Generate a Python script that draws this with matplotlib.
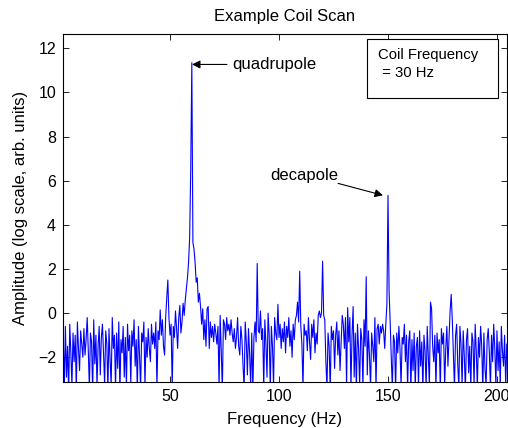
import numpy as np
import matplotlib
matplotlib.use("Agg")
import matplotlib.pyplot as plt
from matplotlib.patches import Rectangle

plt.rcParams['font.family'] = ['Liberation Sans', 'DejaVu Sans']
plt.rcParams['font.size'] = 11

# ---- data ----
freq_start = 1.0   # Hz
freq_step = 0.5    # Hz
amp = [
    # 1 - 10.5 Hz
    -1.1, -3.4, -0.6, -2.9, -1.5, -3.6, -0.5, -1.8, -3.3, -0.9, -2.2, -1.0, -3.5, -0.4, -1.6, -2.6, -0.8, -1.4, -2.0, -0.7,
    # 11 - 20.5
    -1.9, -1.2, -0.2, -1.7, -3.4, -0.9, -1.3, -3.6, -0.3, -2.3, -1.0, -3.3, -1.5, -0.6, -2.8, -1.1, -0.5, -1.9, -3.2, -0.8,
    # 21 - 30.5
    -1.4, -3.5, -0.7, -2.1, -3.3, -0.2, -1.6, -1.0, -3.4, -0.9, -2.5, -0.4, -3.6, -1.2, -1.8, -0.6, -2.9, -1.1, -3.3, -0.5,
    # 31 - 40.5
    -1.7, -1.0, -3.2, -0.8, -1.5, -0.3, -2.4, -1.2, -3.5, -0.6, -1.9, -3.4, -0.9, -1.3, -0.4, -3.3, -1.1, -2.0, -0.7, -1.6,
    # 41 - 50.5
    -2.2, -0.5, -1.4, -0.9, -1.6, -0.4, -3.4, -0.8, -1.2, 0.15, -1.0, -0.3, -1.5, -1.9, -0.2, 0.7, 1.5, -0.2, -1.0, -0.5,
    # 51 - 60.5 (quadrupole at 60 Hz)
    -3.4, -0.6, -1.1, 0.1, -0.7, -1.6, -0.2, 0.35, -0.9, -0.4, 0.45, -0.1, 0.6, 1.1, 1.6, 2.3, 3.4, 6.5, 11.35, 3.2,
    # 61 - 70.5
    2.9, 2.3, 1.4, 1.6, 0.5, 0.9, 0.3, -0.5, 0.2, -1.2, -0.3, -1.5, 0.2, 0.3, -1.6, -0.4, -1.1, -0.6, -1.3, -0.5,
    # 71 - 80.5
    -0.9, -1.4, -0.6, -3.4, -0.1, -1.7, -3.5, -0.3, -0.5, -1.2, -0.2, -0.8, -0.5, -1.0, -0.3, -0.9, -1.3, -0.7, -1.6, -1.1,
    # 81 - 90.5
    -0.2, -1.5, -1.9, -0.6, -1.2, -2.4, -3.4, -0.4, -1.3, -2.8, -0.7, -1.8, -3.3, -0.9, -3.5, -1.1, -0.4, -1.3, 2.25, -0.8,
    # 91 - 100.5
    -0.9, 0.1, -1.2, -0.7, -3.4, -0.3, -1.4, -2.9, 0.0, -1.0, -3.5, -0.6, -1.5, -3.3, -0.2, -0.9, -1.2, 0.4, -1.1, -0.5,
    # 101 - 110.5
    -1.6, -0.7, -1.3, -0.4, -1.8, -0.6, -1.1, -0.2, -1.5, -0.8, -2.0, -0.5, -1.2, -0.3, -0.1, 0.5, -0.4, 1.9, -0.6, -1.4,
    # 111 - 120.5
    -3.4, -0.5, -1.0, -0.8, -1.7, -0.2, -1.3, -2.1, -0.5, -1.1, -0.3, -1.8, -0.9, -1.4, -0.1, 0.1, -0.2, 0.0, 2.35, -0.1,
    # 121 - 130.5
    -0.3, -2.2, -3.4, -0.9, -1.5, -3.5, -0.6, -1.2, -0.8, -2.5, -1.0, -0.4, -1.9, -0.8, -2.6, -1.4, -0.1, -0.5, -1.6, -0.2,
    # 131 - 140.5
    -3.3, 0.25, -1.3, -0.2, -3.4, -1.0, 0.3, -2.9, -0.9, -3.5, -0.5, -1.6, -3.3, -0.7, -1.2, -3.4, -0.3, -1.5, 1.65, -2.8,
    # 141 - 150.5 (decapole at 150 Hz)
    -0.8, -1.9, -3.4, -0.9, -1.5, -2.2, -0.2, -3.4, -0.7, -0.5, -1.4, -0.6, -0.9, -0.5, -0.8, -1.6, -0.5, 0.4, 5.34, 1.0,
    # 151 - 160.5
    -0.4, -2.0, -3.4, -1.0, -1.3, -3.5, -0.9, -1.8, -0.6, -1.6, -3.3, -1.1, -1.4, -0.5, -2.2, -1.0, -3.4, -1.3, -0.8, -3.5,
    # 161 - 170.5
    -1.2, -2.6, -0.9, -3.4, -1.5, -1.1, -3.3, -0.8, -2.4, -1.3, -3.5, -1.0, -1.7, -3.4, -0.6, -1.9, -3.3, 0.5, 0.2, -1.5,
    # 171 - 180.5
    -2.2, -1.0, -3.4, -0.9, -1.8, -1.2, -3.5, -0.7, -1.4, -0.9, -3.3, -1.6, -0.6, -2.4, -1.1, 0.1, 0.85, -0.3, -1.8, -3.4,
    # 181 - 190.5
    -1.0, -0.5, -2.3, -3.4, -0.6, -1.4, -3.3, -0.8, -1.9, -3.5, -1.2, -0.7, -2.7, -1.5, -3.4, -0.9, -1.3, -3.3, -0.5, -1.7,
    # 191 - 200.5
    -3.4, -1.1, -2.0, -0.6, -1.5, -3.5, -0.9, -2.5, -3.3, -1.2, -0.7, -1.8, -3.4, -1.0, -2.2, -0.5, -1.6, -3.3, -0.8, -2.6,
    # 201 - 204.5
    -1.3, -3.4, -0.6, -1.7, -2.4, -1.0, -3.3, -1.4,
]
amp = np.array(amp)
freq = freq_start + freq_step * np.arange(len(amp))

x_ticks = [50, 100, 150, 200]
y_ticks = [-2, 0, 2, 4, 6, 8, 10, 12]

fig = plt.figure(figsize=(5.08, 4.28), dpi=100)
ax = fig.add_axes([63 / 508, 46 / 428, 444 / 508, 348 / 428])

ax.plot(freq, amp, color=(0, 0, 1), lw=0.8)

ax.set_xlim(0.9, 204.6)
ax.set_ylim(-3.12, 12.65)
ax.set_xticks(x_ticks)
ax.set_yticks(y_ticks)
ax.tick_params(direction='in', top=True, right=True, length=4.5, width=0.6,
               labelsize=11.5, pad=5)
for s in ax.spines.values():
    s.set_linewidth(0.8)

ax.set_title('Example Coil Scan', fontsize=12, pad=9)
ax.set_xlabel('Frequency (Hz)', fontsize=12)
ax.xaxis.set_label_coords(0.5, -0.086)
ax.set_ylabel('Amplitude (log scale, arb. units)', fontsize=12)
ax.yaxis.set_label_coords(-0.078, 0.5)

# annotations
ax.annotate('', xy=(60.1, 11.27), xytext=(76.1, 11.27),
            arrowprops=dict(arrowstyle='-|>', color='k', lw=0.8,
                            mutation_scale=12, shrinkA=0, shrinkB=0))
ax.text(78.4, 11.27, 'quadrupole', ha='left', va='center', fontsize=12)

ax.annotate('', xy=(147.7, 5.34), xytext=(127.1, 5.88),
            arrowprops=dict(arrowstyle='-|>', color='k', lw=0.8,
                            mutation_scale=12, shrinkA=0, shrinkB=0))
ax.text(95.9, 6.24, 'decapole', ha='left', va='center', fontsize=12)

# text box
ax.add_patch(Rectangle((0.6847, 0.8161), 0.9797 - 0.6847, 0.9856 - 0.8161,
                       transform=ax.transAxes, facecolor='white',
                       edgecolor='black', lw=0.8, zorder=5))
ax.text(0.7101, 0.9397, 'Coil Frequency', transform=ax.transAxes,
        ha='left', va='center', fontsize=10.7, zorder=6)
ax.text(0.7101, 0.887, ' = 30 Hz', transform=ax.transAxes,
        ha='left', va='center', fontsize=10.7, zorder=6)

fig.savefig('out.png', dpi=100)
